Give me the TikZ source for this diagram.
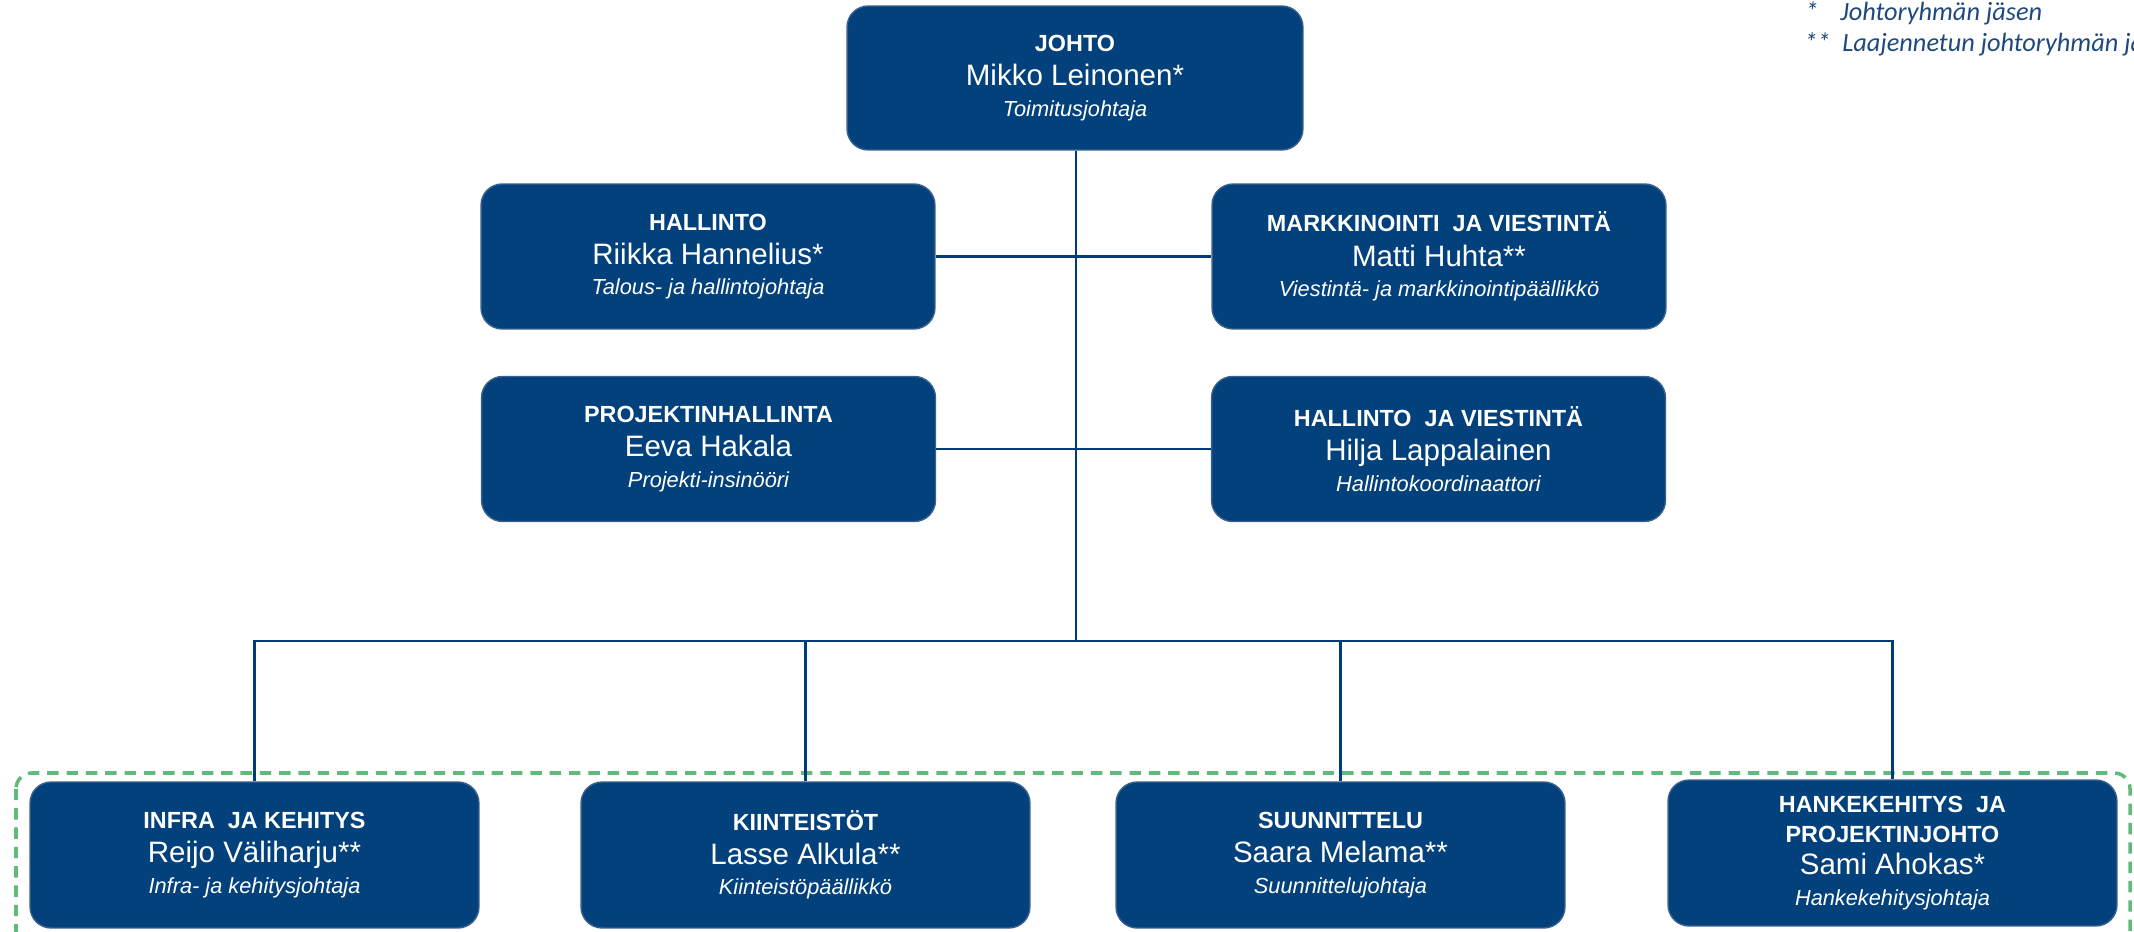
\documentclass[tikz,border=0pt]{standalone}
\usepackage{fontspec}
\setmainfont{Liberation Sans}
\newfontfamily\legendfont{Carlito}
\usetikzlibrary{positioning}
\definecolor{boxblue}{RGB}{2,65,124}
\definecolor{rimblue}{RGB}{58,96,142}
\definecolor{lineblue}{RGB}{0,60,122}
\definecolor{teamgreen}{RGB}{96,186,122}
\definecolor{legendblue}{RGB}{31,73,125}
\newcommand{\person}[3]{{\fontsize{13.3}{15}\selectfont\bfseries #1}\\[4.5pt]{\fontsize{16.8}{15}\selectfont #2}\\[2.2pt]{\fontsize{12.4}{15}\selectfont\itshape #3}}
\newcommand{\persontwo}[4]{{\fontsize{13.3}{15}\selectfont\bfseries #1}\\[2pt]{\fontsize{13.3}{15}\selectfont\bfseries #2}\\[3.5pt]{\fontsize{16.8}{15}\selectfont #3}\\[2.5pt]{\fontsize{12.4}{15}\selectfont\itshape #4}}

\begin{document}
\begin{tikzpicture}[x=0.02cm,y=-0.02cm,
		unit/.style={draw=rimblue,line width=0.8pt,fill=boxblue,rounded corners=12pt,
			text=white,align=center,inner sep=0pt,minimum width=9.08cm,minimum height=2.9cm,
			font=\fontsize{12}{15}\selectfont},
		team/.style={unit,minimum width=8.98cm,minimum height=2.92cm},
		conn/.style={draw=lineblue,line width=1.4pt},
		legend/.style={text=legendblue,inner sep=0pt,anchor=base west,
			font=\legendfont\itshape\fontsize{15}{18}\selectfont}]
	\useasboundingbox (0,0) rectangle (2134,932);
	% team frame
	\draw[teamgreen,line width=2pt,dash pattern=on 6.5pt off 4.5pt,rounded corners=9pt]
		(16,773) rectangle (2130,950);
	% boxes
	\node[unit,minimum width=9.12cm,minimum height=2.88cm] (johto) at (1075,78)
		{\person{JOHTO}{Mikko Leinonen*}{Toimitusjohtaja}};
	\node[unit] (hallinto) at (708,256.5)
		{\person{HALLINTO}{Riikka Hannelius*}{Talous- ja hallintojohtaja}};
	\node[unit] (markkinointi) at (1439,256.5)
		{\person{MARKKINOINTI\ \ JA VIESTINTÄ}{Matti Huhta**}{Viestintä- ja markkinointipäällikkö}};
	\node[unit] (projekti) at (708.5,449)
		{\person{PROJEKTINHALLINTA}{Eeva Hakala}{Projekti-insinööri}};
	\node[unit] (hallvies) at (1438.5,449)
		{\person{HALLINTO\ \ JA VIESTINTÄ}{Hilja Lappalainen}{Hallintokoordinaattori}};
	\node[team] (infra) at (254.5,855)
		{\person{INFRA\ \ JA KEHITYS}{Reijo Väliharju**}{Infra- ja kehitysjohtaja}};
	\node[team] (kiint) at (805.5,855)
		{\person{KIINTEISTÖT}{Lasse Alkula**}{Kiinteistöpäällikkö}};
	\node[team] (suun) at (1340.5,855)
		{\person{SUUNNITTELU}{Saara Melama**}{Suunnittelujohtaja}};
	\node[team] (hanke) at (1892.5,853)
		{\persontwo{HANKEKEHITYS\ \ JA}{PROJEKTINJOHTO}{Sami Ahokas*}{Hankekehitysjohtaja}};
	% lines
	\coordinate (bus) at (1076,641);
	\draw[conn] (johto.south -| bus) -- (bus);
	\draw[conn] (hallinto) -- (markkinointi);
	\draw[conn] (projekti) -- (hallvies);
	\draw[conn] (infra.north) |- (bus) -| (hanke.north);
	\draw[conn] (kiint.north) -- (kiint.north |- bus);
	\draw[conn] (suun.north) -- (suun.north |- bus);
	% legend
	\node[legend] (star) at (1805,21) {*};
	\node[legend] (leg1) at (1840,21) {Johtoryhmän jäsen};
	\node[legend] (stars) at (1804,52) {**};
	\node[legend] (leg2) at (1842,52) {Laajennetun johtoryhmän jäsen};
\end{tikzpicture}
\end{document}
